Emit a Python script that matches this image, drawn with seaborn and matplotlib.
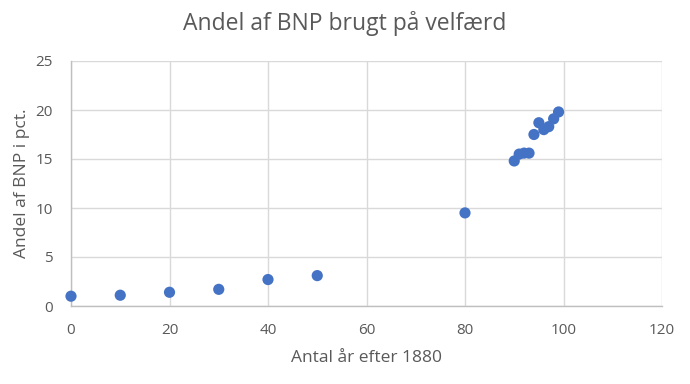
import matplotlib
matplotlib.use("Agg")
import matplotlib.pyplot as plt
import seaborn as sns
import pandas as pd

years = [0, 10, 20, 30, 40, 50, 80, 90, 91, 92, 93, 94, 95, 96, 97, 98, 99]
share = [1.0, 1.1, 1.4, 1.7, 2.7, 3.1, 9.5, 14.8, 15.5, 15.6, 15.6, 17.5, 18.7, 18.0, 18.3, 19.1, 19.8]
xticks = [0, 20, 40, 60, 80, 100, 120]
yticks = [0, 5, 10, 15, 20, 25]

df = pd.DataFrame({"x": years, "y": share})

sns.set_theme(style="white")
plt.rcParams['font.family'] = ['Open Sans', 'DejaVu Sans']

fig = plt.figure(figsize=(6.9, 3.84), dpi=100)
ax = fig.add_axes([71/690, 1-306/384, (662-71)/690, (306-61)/384])
sns.scatterplot(data=df, x="x", y="y", ax=ax, color="#4472C4", s=65, edgecolor="none", zorder=3, clip_on=False)
ax.set_xlim(0, 120)
ax.set_ylim(0, 25)
ax.set_xticks(xticks)
ax.set_yticks(yticks)
ax.grid(True, color="#d9d9d9", linewidth=1)
ax.set_axisbelow(True)
for s in ["top", "right"]:
    ax.spines[s].set_visible(False)
ax.spines["bottom"].set_color("#bfbfbf")
ax.spines["left"].set_color("#bfbfbf")
ax.spines["bottom"].set_linewidth(1)
ax.spines["left"].set_linewidth(1)
ax.tick_params(axis="x", colors="#595959", labelsize=11, length=0, pad=12)
ax.tick_params(axis="y", colors="#595959", labelsize=11, length=0, pad=13)
ax.set_xlabel("Antal år efter 1880", color="#595959", fontsize=12.5, labelpad=9)
ax.set_ylabel("Andel af BNP i pct.", color="#595959", fontsize=12.5, labelpad=4)
fig.text(0.5, 1-24/384, "Andel af BNP brugt på velfærd", ha="center", va="center", fontsize=16.5, color="#595959")
fig.savefig("out.png", dpi=100)
